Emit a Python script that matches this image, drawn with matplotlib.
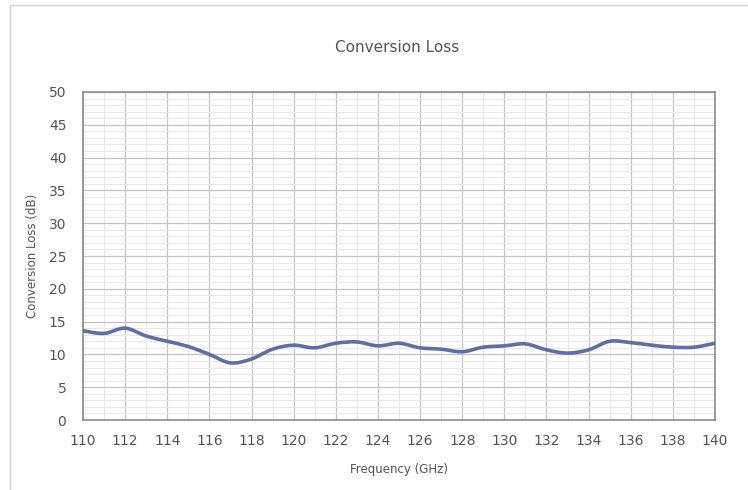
import matplotlib.pyplot as plt
from matplotlib.patches import Rectangle, PathPatch
from matplotlib.path import Path
from matplotlib.ticker import MultipleLocator

# Data (frequency in GHz, loss in dB)
freq = [110, 111, 112, 113, 114, 115, 116, 117, 118, 119, 120,
        121, 122, 123, 124, 125, 126, 127, 128, 129, 130,
        131, 132, 133, 134, 135, 136, 137, 138, 139, 140]
loss = [13.6, 13.2, 14.0, 12.8, 12.0, 11.2, 10.0, 8.7, 9.3, 10.8, 11.4,
        11.0, 11.7, 11.9, 11.3, 11.7, 11.0, 10.8, 10.4, 11.1, 11.3,
        11.6, 10.7, 10.2, 10.7, 12.0, 11.8, 11.4, 11.1, 11.1, 11.7]

text_col = '#555555'

fig = plt.figure(figsize=(7.48, 4.9), dpi=100)
ax = fig.add_axes([83/748, 1 - 420/490, 632/748, 328/490])

# faint outer chart border
fig.patches.append(Rectangle((10/748, -0.05), 1.2, 1 - 5/490 + 0.05,
                             transform=fig.transFigure, fill=False,
                             edgecolor='#d4d4d4', linewidth=1))

# smoothed line like Excel: bezier segments through the data points
verts = [(freq[0], loss[0])]
codes = [Path.MOVETO]
n = len(freq)
for i in range(n - 1):
    p0 = (freq[max(i - 1, 0)], loss[max(i - 1, 0)])
    p1 = (freq[i], loss[i])
    p2 = (freq[i + 1], loss[i + 1])
    p3 = (freq[min(i + 2, n - 1)], loss[min(i + 2, n - 1)])
    c1 = (p1[0] + (p2[0] - p0[0]) / 6, p1[1] + (p2[1] - p0[1]) / 6)
    c2 = (p2[0] - (p3[0] - p1[0]) / 6, p2[1] - (p3[1] - p1[1]) / 6)
    verts += [c1, c2, p2]
    codes += [Path.CURVE4] * 3
ax.add_patch(PathPatch(Path(verts, codes), facecolor='none',
                       edgecolor='#5f6fa3', linewidth=2.6,
                       capstyle='round', joinstyle='round', zorder=3))

ax.set_xlim(110, 140)
ax.set_ylim(0, 50)
ax.xaxis.set_major_locator(MultipleLocator(2))
ax.xaxis.set_minor_locator(MultipleLocator(1))
ax.yaxis.set_major_locator(MultipleLocator(5))
ax.yaxis.set_minor_locator(MultipleLocator(1))

ax.grid(which='major', color='#c4c4c4', linewidth=0.9)
ax.grid(which='minor', color='#e8e8e8', linewidth=0.7)
ax.set_axisbelow(True)

for s in ax.spines.values():
    s.set_color('#8c8c8c')
    s.set_linewidth(1.2)

ax.tick_params(which='both', length=0, colors=text_col, labelsize=10)
ax.tick_params(axis='x', pad=10)
ax.tick_params(axis='y', pad=12)

ax.set_xlabel('Frequency (GHz)', color=text_col, fontsize=8.5, labelpad=11)
ax.set_ylabel('Conversion Loss (dB)', color=text_col, fontsize=8.5, labelpad=7)
fig.text(397/748, 1 - 48/490, 'Conversion Loss', ha='center', va='center',
         color=text_col, fontsize=11)

fig.savefig('out.png', dpi=100)
